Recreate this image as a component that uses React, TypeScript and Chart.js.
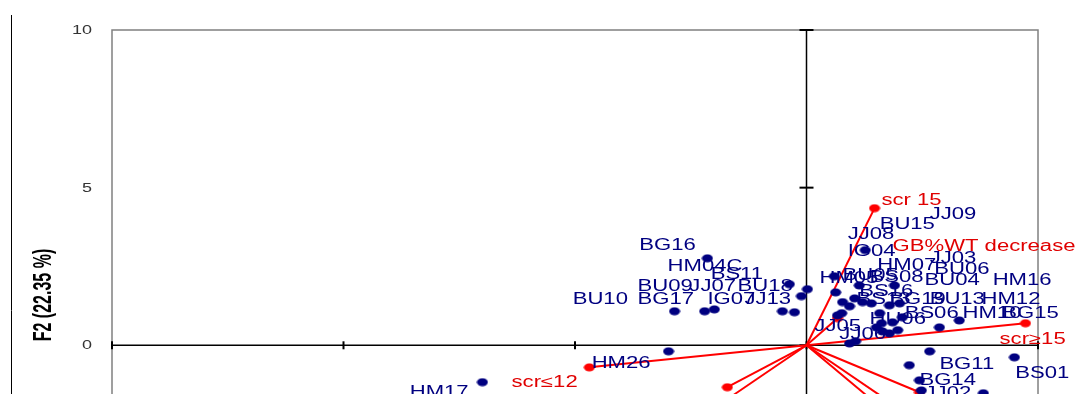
import React, { useEffect, useRef } from 'react';
import { Chart, registerables } from 'chart.js';

Chart.register(...registerables);

// Observation scores (F1, F2)
const pointX = [-2.14, -0.37, 0.02, -0.11, -2.85, -2.2, -1.99, -0.52, -0.26, -2.98, -7.0, 1.27, 0.6, 0.63, 1.14, 1.9, 0.78, 1.04, 1.21, 1.4, 1.58, 1.79, 2.01, 2.07, 1.86, 0.67, 1.51, 1.64, 1.79, 1.97, 0.93, 1.06, 2.87, 3.3, 2.66, 2.22, 4.49, 2.44, 2.48, 3.82, 0.93, 0.76, 1.62];
const pointY = [2.76, 1.94, 1.78, 1.56, 1.08, 1.08, 1.14, 1.08, 1.05, -0.19, -1.17, 3.02, 2.19, 1.68, 1.9, 1.9, 1.37, 1.49, 1.37, 1.33, 1.02, 1.27, 1.33, 0.89, 0.73, 0.95, 0.57, 0.44, 0.38, 0.48, 0.06, 0.13, 0.57, 0.79, -0.19, -0.63, -0.38, -1.11, -1.43, -1.52, 1.24, 1.02, 0.7];

// Observation labels and their anchor (data units)
const obsLabels = ['BG16', 'HM04C', 'BS11', 'BU09', 'JJ07', 'BU18', 'BU10', 'BG17', 'IG07', 'JJ13', 'HM26', 'HM17', 'HM05', 'BU05', 'BS08', 'BU04', 'HM16', 'HM07', 'BU06', 'JJ03', 'JJ09', 'BU15', 'JJ08', 'IG04', 'BS16', 'BS13', 'BG19', 'BU13', 'HM12', 'BS06', 'HM10', 'BG15', 'HU06', 'JJ05', 'JJ06', 'BG11', 'BS01', 'BG14', 'JJ02'];
const obsLabelX = [-3.61, -3.0, -2.07, -3.65, -2.53, -1.49, -5.05, -3.65, -2.14, -1.34, -4.64, -8.57, 0.28, 0.78, 1.36, 2.55, 4.02, 1.53, 2.76, 2.66, 2.66, 1.58, 0.89, 0.89, 1.14, 1.08, 1.79, 2.66, 3.78, 2.12, 3.37, 4.23, 1.36, 0.17, 0.71, 2.87, 4.51, 2.44, 2.55];
const obsLabelY = [3.21, 2.54, 2.29, 1.9, 1.9, 1.9, 1.49, 1.49, 1.49, 1.49, -0.54, -1.46, 2.16, 2.25, 2.19, 2.1, 2.1, 2.57, 2.44, 2.79, 4.19, 3.87, 3.56, 3.02, 1.75, 1.49, 1.49, 1.49, 1.49, 1.05, 1.05, 1.05, 0.86, 0.63, 0.38, -0.57, -0.86, -1.08, -1.49];

// Variable vectors (loadings, end points)
const vecX = [1.47, 0.67, 4.73, -4.69, -1.71, -1.95, 1.55, 2.0, 2.44];
const vecY = [4.35, 0.86, 0.7, -0.7, -1.33, -1.95, -1.9, -2.0, -1.49];

// Variable labels and their anchor (data units)
const varLabels = ['scr 15', 'GB%WT decrease', 'scr≥15', 'scr≤12'];
const varLabelX = [1.62, 1.86, 4.17, -6.37];
const varLabelY = [4.63, 3.17, 0.22, -1.14];

// Axes
const xTickValues = [-15, -10, -5, 0, 5];
const yTickValues = [10, 5, 0, -5];
const yTitle = 'F2 (22.35 %)';

const NAVY = '#000080';
const RED = '#ff0000';
const LABEL_RED = '#e00000';
const FONT = '"Liberation Sans", Arial, sans-serif';

function makeEllipse(color: string, w: number, h: number) {
  const c = document.createElement('canvas');
  c.width = w;
  c.height = h;
  const g = c.getContext('2d')!;
  g.fillStyle = color;
  g.beginPath();
  g.ellipse(w / 2, h / 2, w / 2 - 0.5, h / 2 - 0.5, 0, 0, Math.PI * 2);
  g.fill();
  return c;
}

const decorPlugin = {
  id: 'decor',
  beforeDatasetsDraw(chart: any) {
    const { ctx, chartArea: a, scales } = chart;
    const x = scales.x;
    const y = scales.y;
    const line = (x1: number, y1: number, x2: number, y2: number) => {
      ctx.beginPath();
      ctx.moveTo(x1, y1);
      ctx.lineTo(x2, y2);
      ctx.stroke();
    };
    ctx.save();
    // outer frame line
    ctx.strokeStyle = '#000';
    ctx.lineWidth = 1;
    line(11.5, 15, 11.5, chart.height);
    // plot area border
    ctx.strokeStyle = '#808080';
    ctx.lineWidth = 1.5;
    ctx.strokeRect(a.left, a.top, a.right - a.left, a.bottom - a.top);
    // axes through origin
    const x0 = x.getPixelForValue(0);
    const y0 = y.getPixelForValue(0);
    ctx.strokeStyle = '#000';
    ctx.lineWidth = 1.5;
    line(a.left, y0, a.right, y0);
    line(x0, a.top, x0, a.bottom);
    ctx.lineWidth = 2;
    for (const v of xTickValues) {
      const px = x.getPixelForValue(v);
      line(px, y0 - 4, px, y0 + 4);
    }
    for (const v of yTickValues) {
      const py = y.getPixelForValue(v);
      line(x0 - 7, py, x0 + 7, py);
    }
    // y tick labels
    ctx.fillStyle = '#333';
    ctx.font = '12px ' + FONT;
    ctx.textAlign = 'right';
    ctx.textBaseline = 'alphabetic';
    for (const v of yTickValues) {
      const py = y.getPixelForValue(v);
      ctx.save();
      ctx.translate(a.left - 20, py + 4);
      ctx.scale(1.5, 1);
      ctx.fillText(String(v), 0, 0);
      ctx.restore();
    }
    // y axis title
    ctx.save();
    ctx.fillStyle = '#000';
    ctx.font = 'bold 16px ' + FONT;
    ctx.textAlign = 'center';
    ctx.textBaseline = 'middle';
    ctx.translate(44, (a.top + a.bottom) / 2 - 3);
    ctx.scale(1.6, 1);
    ctx.rotate(-Math.PI / 2);
    ctx.fillText(yTitle, 0, 0);
    ctx.restore();
    ctx.restore();
  },
  afterDatasetsDraw(chart: any) {
    const { ctx, scales } = chart;
    const x = scales.x;
    const y = scales.y;
    const draw = (t: string, vx: number, vy: number, color: string) => {
      ctx.save();
      ctx.fillStyle = color;
      ctx.font = '16px ' + FONT;
      ctx.textAlign = 'left';
      ctx.textBaseline = 'alphabetic';
      ctx.translate(x.getPixelForValue(vx), y.getPixelForValue(vy) + 6);
      ctx.scale(1.38, 1);
      ctx.fillText(t, 0, 0);
      ctx.restore();
    };
    obsLabels.forEach((t, i) => draw(t, obsLabelX[i], obsLabelY[i], NAVY));
    varLabels.forEach((t, i) => draw(t, varLabelX[i], varLabelY[i], LABEL_RED));
  },
};

export default function App() {
  const ref = useRef<HTMLCanvasElement | null>(null);

  useEffect(() => {
    if (!ref.current) return;
    const navyDot = makeEllipse(NAVY, 12, 9);
    const redDot = makeEllipse(RED, 12, 9);

    const datasets: any[] = [
      {
        label: 'Observations',
        data: pointX.map((v, i) => ({ x: v, y: pointY[i] })),
        pointStyle: navyDot,
        pointRadius: 5,
        showLine: false,
      },
    ];
    vecX.forEach((v, i) => {
      datasets.push({
        label: 'v' + i,
        data: [
          { x: 0, y: 0 },
          { x: v, y: vecY[i] },
        ],
        showLine: true,
        borderColor: RED,
        borderWidth: 2,
        pointStyle: redDot,
        pointRadius: [0, 5],
      });
    });

    const chart = new Chart(ref.current, {
      type: 'scatter',
      data: { datasets },
      plugins: [decorPlugin],
      options: {
        animation: false,
        responsive: false,
        devicePixelRatio: 1,
        layout: { padding: { top: 30, right: 46, left: 0, bottom: 0 } },
        plugins: { legend: { display: false }, tooltip: { enabled: false } },
        scales: {
          x: {
            type: 'linear',
            min: -15,
            max: 5,
            ticks: { stepSize: 5, display: false },
            grid: { display: false },
            border: { display: false },
            afterFit: (s: any) => {
              s.height = 40;
            },
          },
          y: {
            type: 'linear',
            min: -7,
            max: 10,
            ticks: { stepSize: 5, display: false },
            grid: { display: false },
            border: { display: false },
            afterFit: (s: any) => {
              s.width = 112;
            },
          },
        },
      } as any,
    });
    return () => chart.destroy();
  }, []);

  return (
    <div style={{ position: 'absolute', left: 0, top: 0, width: 1084, height: 394, overflow: 'hidden', background: '#fff' }}>
      <canvas ref={ref} width={1084} height={606} style={{ display: 'block', width: 1084, height: 606 }} />
    </div>
  );
}
